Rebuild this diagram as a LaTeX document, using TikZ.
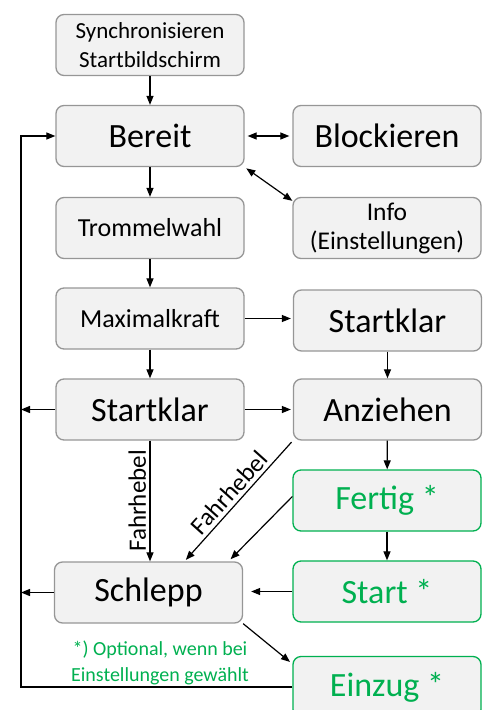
\documentclass[tikz,border=0pt]{standalone}
\usepackage{fontspec}
\setmainfont{Carlito}
\usepackage{xcolor}
\definecolor{boxbg}{RGB}{242,242,242}
\definecolor{boxframe}{RGB}{150,150,150}
\definecolor{optgreen}{RGB}{0,176,80}
\usetikzlibrary{arrows.meta}

\begin{document}
\begin{tikzpicture}[
  x=1pt, y=-1pt,
  every node/.style={font=\fontsize{26}{30}\selectfont},
  box/.style={draw=boxframe, fill=boxbg, rounded corners=8pt, line width=1.3pt,
    minimum width=188pt, minimum height=61pt, align=center, inner sep=0pt},
  big/.style={font=\fontsize{34}{40}\selectfont},
  small/.style={font=\fontsize{23}{29}\selectfont},
  lever/.style={font=\fontsize{25}{29}\selectfont},
  opt/.style={box, big, draw=optgreen, text=optgreen},
  arr/.style={-{Triangle[length=9pt,width=7pt]}, line width=1.2pt},
  both/.style={{Triangle[length=9pt,width=7pt]}-{Triangle[length=9pt,width=7pt]}, line width=1.2pt},
]
\clip (0,0) rectangle (484,710);
\useasboundingbox (0,0) rectangle (484,710);

% left column
\node[box, small] (sync) at (150,45) {Synchronisieren\\Startbildschirm};
\node[box, big] (bereit) at (150,136) {Bereit};
\node[box] (trommel) at (150,228) {Trommelwahl};
\node[box] (maxkraft) at (150,318.5) {Maximalkraft};
\node[box, big] (startL) at (150,409.5) {Startklar};
\node[box, big] (schlepp) at (148.5,592.5) {Schlepp};

% right column
\node[box, big] (block) at (387,136) {Blockieren};
\node[box, font=\fontsize{25.5}{29}\selectfont] (info) at (387,228) {Info\\(Einstellungen)};
\node[box, big] (startR) at (387.5,320.5) {Startklar};
\node[box, big] (anziehen) at (387.5,409.5) {Anziehen};
\node[opt] (fertig) at (387,500.5) {Fertig *};
\node[opt] (start) at (387,591.5) {Start *};
\node[opt] (einzug) at (387,687) {Einzug *};

\node[text=optgreen, font=\fontsize{20}{26}\selectfont, align=center] (note) at (160,663)
  {*) Optional, wenn bei\\Einstellungen gewählt};
\coordinate (loop) at (21,687);

% connectors
\draw[arr] (sync) -- (bereit);
\draw[both, shorten <=3pt, shorten >=3pt] (bereit) -- (block);
\draw[both, shorten <=2pt] (bereit.south east) -- ([yshift=-4pt]info.north west);
\draw[arr] (bereit) -- (trommel);
\draw[arr] (trommel) -- (maxkraft);
\draw[arr] (maxkraft) -- (startL);
\draw[arr, shorten >=2pt] (maxkraft.east) -- (maxkraft.east -| startR.west);
\draw[arr] (startR) -- (anziehen);
\draw[arr, shorten >=2pt] (startL) -- (anziehen);
\draw[arr] (startL.south) -- node[midway, rotate=90, anchor=south, lever] {Fahrhebel}
  (startL.south |- schlepp.north);
\draw[arr, shorten <=2pt, shorten >=2pt] (anziehen.south west) -- node[midway, sloped, above, lever] {Fahrhebel}
  ([xshift=36pt]schlepp.north);
\draw[arr] (anziehen) -- (fertig);
\draw[arr, shorten >=3pt] ([yshift=4pt]fertig.west) -- ([xshift=80pt]schlepp.north);
\draw[arr] (fertig) -- (start);
\draw[arr, shorten >=8pt] (start.west) -- (start.west -| schlepp.east);
\draw[arr, shorten >=3pt] (schlepp.south east) -- ([yshift=-8pt]einzug.north west);
\draw[arr] (startL.west) -- (startL.west -| loop);
\draw[arr] (schlepp.west) -- (schlepp.west -| loop);
\draw[arr] (einzug.west) -- (loop) |- (bereit.west);
\end{tikzpicture}
\end{document}
